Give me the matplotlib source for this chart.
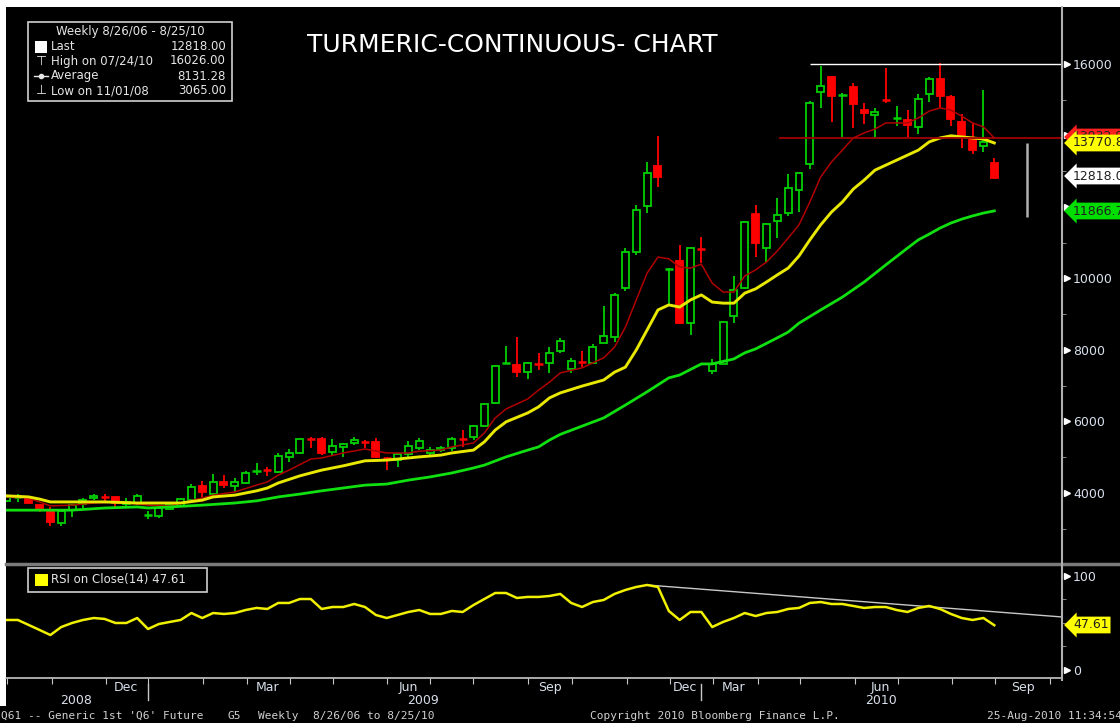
import matplotlib
matplotlib.use("Agg")
import matplotlib.pyplot as plt
from matplotlib.patches import Rectangle
from matplotlib.lines import Line2D
import matplotlib.transforms as mtransforms

# weekly OHLC, one bar per week (index 0 .. 91)
opens = [3790, 3880, 3860, 3660, 3500, 3160, 3520, 3690, 3860, 3900,
         3890, 3690, 3720, 3380, 3360, 3550, 3640, 3800, 4200, 3970,
         4310, 4200, 4280, 4590, 4650, 4590, 5010, 5120, 5520, 5510,
         5150, 5290, 5400, 5450, 5430, 4990, 4920, 5090, 5260, 5120,
         5200, 5260, 5520, 5570, 5870, 6520, 7620, 7580, 7380, 7620,
         7640, 7970, 7470, 7670, 7640, 8200, 8360, 9730, 10740, 12030,
         13150, 10260, 10490, 8750, 10830, 7410, 7610, 8950, 9730, 11800,
         10850, 11610, 11830, 12470, 13200, 15220, 15630, 15130, 15360, 14710,
         14570, 15000, 14480, 14430, 14240, 15160, 15570, 15070, 14380, 13870,
         13700, 13230]
highs = [3920, 3970, 3880, 3680, 3610, 3520, 3690, 3860, 3970, 3970,
         3900, 3860, 3970, 3500, 3600, 3720, 3860, 4250, 4340, 4530,
         4500, 4420, 4620, 4840, 4730, 5120, 5230, 5540, 5570, 5570,
         5510, 5400, 5570, 5480, 5540, 5010, 5120, 5450, 5540, 5290,
         5310, 5570, 5760, 5900, 6520, 7580, 8110, 8360, 7660, 7920,
         8080, 8340, 7780, 7970, 8170, 9230, 9590, 10850, 12060, 13260,
         13990, 10290, 10940, 10880, 11160, 7750, 8800, 10070, 11600, 12060,
         11540, 12250, 12920, 12980, 14960, 15940, 15650, 15180, 15470, 14910,
         14770, 15890, 14820, 14710, 15160, 15640, 16026, 15130, 14600, 14350,
         15270, 13370]
lows = [3760, 3750, 3700, 3470, 3065, 3080, 3330, 3580, 3800, 3780,
        3610, 3580, 3660, 3270, 3300, 3530, 3610, 3780, 3890, 3890,
        4140, 4030, 4260, 4500, 4480, 4570, 4870, 5100, 5260, 5060,
        5060, 5010, 5340, 5260, 4990, 4640, 4730, 5010, 5200, 5060,
        5150, 5170, 5290, 5480, 5850, 6490, 7610, 7240, 7190, 7440,
        7360, 7920, 7360, 7520, 7610, 8200, 8220, 9650, 10660, 11830,
        12560, 9260, 8730, 8420, 10430, 7330, 7600, 8750, 9700, 10600,
        10430, 11130, 11750, 11860, 13060, 14770, 14380, 13960, 14210, 14320,
        13960, 14910, 14270, 13960, 14040, 14940, 14770, 14270, 13650, 13480,
        13540, 12810]
closes = [3890, 3890, 3720, 3550, 3190, 3500, 3660, 3800, 3920, 3880,
          3720, 3750, 3920, 3400, 3580, 3690, 3830, 4170, 4030, 4310,
          4220, 4310, 4560, 4640, 4630, 5030, 5120, 5510, 5500, 5120,
          5310, 5370, 5480, 5400, 5010, 4970, 5090, 5310, 5450, 5200,
          5260, 5510, 5500, 5870, 6490, 7550, 7640, 7380, 7640, 7600,
          7920, 8250, 7690, 7650, 8080, 8390, 9540, 10740, 11910, 12950,
          12840, 10270, 8750, 10850, 10810, 7610, 8780, 9680, 11580, 10990,
          11520, 11780, 12530, 12950, 14910, 15380, 15100, 15160, 14880, 14630,
          14660, 14980, 14500, 14290, 15020, 15570, 15100, 14460, 13960, 13590,
          13810, 12818]

# moving average lines (bar index, value)
red_i = [0, 2, 3, 4, 6, 8, 10, 11, 13, 15, 16, 18, 19, 21, 23, 24, 25, 26, 28, 29,
         31, 33, 35, 37, 38, 40, 41, 43, 44, 45, 46, 48, 49, 50, 51, 53, 55, 56, 57, 58,
         59, 60, 61, 62, 63, 64, 65, 66, 67, 68, 69, 70, 71, 72, 73, 74, 75, 76, 77, 78,
         79, 80, 81, 82, 83, 84, 85, 86, 87, 88, 89, 90, 91]
red_v = [3890, 3860, 3750, 3640, 3660, 3720, 3750, 3720, 3660, 3640,
         3720, 3860, 3940, 4030, 4220, 4310, 4500, 4640, 4950, 4980,
         5120, 5230, 5120, 5120, 5170, 5200, 5290, 5400, 5680, 6100,
         6350, 6630, 6880, 7100, 7360, 7500, 7780, 8080, 8640, 9400,
         10150, 10600, 10550, 10320, 10290, 10400, 9870, 9620, 9620, 10070,
         10240, 10460, 10770, 11130, 11500, 12140, 12840, 13260, 13590, 13930,
         14070, 14180, 14350, 14350, 14350, 14490, 14680, 14770, 14710, 14540,
         14350, 14240, 13930]
yel_i = [0, 2, 3, 4, 6, 9, 12, 14, 16, 18, 19, 21, 23, 24, 25, 27, 29, 31, 33, 35,
         37, 38, 40, 41, 43, 44, 45, 46, 48, 49, 50, 51, 53, 55, 56, 57, 58, 59, 60, 61,
         62, 63, 64, 65, 66, 67, 68, 69, 70, 71, 72, 73, 74, 75, 76, 77, 78, 79, 80, 81,
         82, 83, 84, 85, 86, 87, 88, 89, 90, 91]
yel_v = [3920, 3890, 3830, 3750, 3750, 3750, 3720, 3720, 3720, 3800,
         3890, 3940, 4060, 4140, 4280, 4480, 4640, 4760, 4900, 4920,
         4980, 5010, 5060, 5120, 5200, 5430, 5760, 5990, 6240, 6410,
         6660, 6800, 6990, 7160, 7380, 7520, 8000, 8560, 9120, 9260,
         9200, 9400, 9540, 9340, 9310, 9310, 9590, 9710, 9900, 10100,
         10290, 10630, 11080, 11500, 11860, 12140, 12500, 12750, 13030, 13170,
         13310, 13450, 13590, 13820, 13930, 13990, 13960, 13930, 13900, 13790]
grn_i = [0, 6, 9, 12, 13, 15, 18, 21, 23, 25, 27, 29, 31, 33, 35, 37, 39, 41, 43, 44,
         46, 48, 49, 50, 51, 53, 55, 57, 59, 61, 62, 64, 65, 67, 68, 69, 71, 72, 73, 75,
         77, 79, 81, 83, 84, 85, 86, 87, 88, 89, 90, 91]
grn_v = [3520, 3520, 3580, 3610, 3580, 3610, 3660, 3720, 3780, 3890,
         3970, 4060, 4140, 4220, 4250, 4360, 4450, 4560, 4700, 4780,
         5010, 5200, 5290, 5480, 5640, 5870, 6100, 6460, 6830, 7220,
         7300, 7610, 7610, 7750, 7920, 8030, 8340, 8500, 8750, 9120,
         9480, 9900, 10380, 10850, 11080, 11240, 11410, 11550, 11660, 11750,
         11830, 11890]

rsi_vals = [53.2, 53.2, 47.9, 42.6, 37.2, 45.7, 50.0, 53.2, 55.3, 54.3,
            50.0, 50.0, 55.3, 43.6, 48.9, 51.1, 53.2, 60.6, 55.3, 60.6,
            59.6, 60.6, 63.8, 66.0, 64.9, 71.3, 71.3, 75.5, 75.5, 64.9,
            67.0, 67.0, 70.2, 67.0, 58.5, 55.3, 58.5, 61.7, 63.8, 59.6,
            59.6, 62.8, 61.7, 69.1, 75.5, 81.9, 81.9, 76.6, 77.7, 77.7,
            78.7, 80.9, 71.3, 67.0, 72.3, 74.5, 80.9, 85.1, 88.3, 90.4,
            88.3, 62.8, 53.2, 61.7, 61.7, 45.7, 51.1, 55.3, 60.6, 57.4,
            60.6, 61.7, 64.9, 66.0, 71.3, 72.3, 70.2, 70.2, 68.1, 66.0,
            67.0, 67.0, 63.8, 61.7, 66.0, 68.1, 64.9, 59.6, 55.3, 53.2,
            55.3, 47.61]

month_bounds = [0, 4.15, 9.12, 13.0, 18.06, 22.1, 26.08, 30.05, 35.02, 38.99, 42.95,
                48.02, 52.07, 57.14, 61.1, 65.07, 69.22, 73.09, 78.16, 82.12, 87.1,
                91.06, 96.13]
month_labels = ["Dec", "Mar", "Jun", "Sep", "Dec", "Mar", "Jun", "Sep"]
month_pos = [11, 24, 37, 50, 62.5, 67, 80.5, 93.6]
year_labels = ["2008", "2009", "2010"]
year_pos = [6.4, 38.3, 80.6]
year_breaks = [13, 64]

W, H = 1120, 723
GREEN = "#00D000"
RED = "#FF0000"
LBL = "#D8E0EC"
XMIN, XMAX = -0.09, 97.24


def fx(px):
    return px / W


def fy(py):
    return 1 - py / H


fig = plt.figure(figsize=(W / 100, H / 100), dpi=100, facecolor="white")
fig.add_artist(Rectangle((fx(6), 0), 1 - fx(6), fy(7), transform=fig.transFigure,
                         facecolor="black", edgecolor="none", zorder=-10))
fig.add_artist(Rectangle((0, 0), fx(6), fy(706), transform=fig.transFigure,
                         facecolor="black", edgecolor="none", zorder=-10))

ax = fig.add_axes([fx(6), fy(561), fx(1062) - fx(6), fy(7) - fy(561)])
rsi = fig.add_axes([fx(6), fy(678), fx(1062) - fx(6), fy(566) - fy(678)])
for a in (ax, rsi):
    a.set_facecolor("black")
    for s in a.spines.values():
        s.set_visible(False)
    a.set_xlim(XMIN, XMAX)

# candles
for i in range(len(opens)):
    o, h, l, c = opens[i], highs[i], lows[i], closes[i]
    up = c >= o
    col = GREEN if up else RED
    ax.vlines(i, l, h, color=col, lw=1.3, zorder=2)
    if abs(c - o) < 60:
        ax.hlines((o + c) / 2, i - 0.38, i + 0.38, color=col, lw=1.8, zorder=3)
    else:
        ax.add_patch(Rectangle((i - 0.32, min(o, c)), 0.64, abs(c - o),
                               facecolor="black" if up else RED, edgecolor=col,
                               lw=1.3, zorder=3))

ax.plot(red_i, red_v, color="#B00000", lw=1.1, zorder=4)
ax.plot(grn_i, grn_v, color="#10E010", lw=2.0, zorder=4)
ax.plot(yel_i, yel_v, color="#E8E800", lw=2.1, zorder=4)

ax.hlines(13932.9, 71.2, XMAX, color="#A00000", lw=1.3, zorder=5)
ax.hlines(15990, 74.0, XMAX, color="white", lw=1.0, zorder=5)
ax.vlines(94, 11720, 13790, color="#B0B0B0", lw=1.8, zorder=5)

ax.set_ylim(2098, 17593)
ax.yaxis.tick_right()
ax.set_yticks(range(4000, 16001, 2000))
ax.set_yticklabels([str(v) for v in range(4000, 16001, 2000)])
ax.set_yticks(range(3000, 16000, 2000), minor=True)
ax.tick_params(axis="y", which="major", length=0, pad=8, labelsize=9, labelcolor=LBL)
ax.tick_params(axis="y", which="minor", length=3, color="#A0A0A0", direction="out")
ax.tick_params(axis="x", bottom=False, labelbottom=False)
tr = mtransforms.blended_transform_factory(ax.transAxes, ax.transData)
ax.plot([1.005] * 7, list(range(4000, 16001, 2000)), ls="none", marker=">", ms=5,
        color="white", transform=tr, clip_on=False)

# RSI panel
rsi.plot(range(len(rsi_vals)), rsi_vals, color="#F0F000", lw=1.8, zorder=3)
rsi.plot([59, XMAX], [90.4, 56.4], color="#C8C8C8", lw=1.0, zorder=2)
rsi.set_ylim(-8.5, 110.6)
rsi.yaxis.tick_right()
rsi.set_yticks([0, 100])
rsi.set_yticklabels(["0", "100"])
rsi.set_yticks([25, 50, 75], minor=True)
rsi.tick_params(axis="y", which="major", length=0, pad=8, labelsize=9, labelcolor=LBL)
rsi.tick_params(axis="y", which="minor", length=3, color="#A0A0A0", direction="out")
tr2 = mtransforms.blended_transform_factory(rsi.transAxes, rsi.transData)
rsi.plot([1.005] * 2, [0, 100], ls="none", marker=">", ms=5, color="white",
         transform=tr2, clip_on=False)

rsi.spines["bottom"].set_visible(True)
rsi.spines["bottom"].set_color("#C8C8C8")
rsi.spines["bottom"].set_linewidth(1.2)
rsi.set_xticks(month_bounds)
rsi.tick_params(axis="x", length=4, color="#C8C8C8", direction="out", labelbottom=False)
xt = rsi.get_xaxis_transform()
for lab, p in zip(month_labels, month_pos):
    rsi.text(p, -0.085, lab, transform=xt, ha="center", va="center", fontsize=9,
             color=LBL, clip_on=False)
for lab, p in zip(year_labels, year_pos):
    rsi.text(p, -0.2, lab, transform=xt, ha="center", va="center", fontsize=9,
             color=LBL, clip_on=False)
for p in year_breaks:
    rsi.plot([p, p], [-0.05, -0.2], transform=xt, color="#C8C8C8", lw=1.0, clip_on=False)

# separators and right spine
fig.add_artist(Line2D([fx(6), 1], [fy(563.5)] * 2, color="#7A7A7A", lw=2.5))
fig.add_artist(Line2D([fx(1062)] * 2, [fy(7), fy(680)], color="#B0B0B0", lw=1.5))


def tag(py, txt, fc):
    fig.text(fx(1073), fy(py), txt, fontsize=9, color="#202020", va="center", ha="left",
             zorder=10, bbox=dict(boxstyle="larrow,pad=0.15", fc=fc, ec="none"))


tag(137, "13932.9", "#FF2020")
tag(143, "13770.84", "#FFFF00")
tag(176, "12818.00", "white")
tag(211, "11866.7", "#00DD00")
tag(625, "47.61", "#FFFF00")

# title
fig.text(fx(512), fy(45), "TURMERIC-CONTINUOUS- CHART", color="white", fontsize=18,
         ha="center", va="center")

# legend box
fig.add_artist(Rectangle((fx(28), fy(101)), fx(232) - fx(28), fy(22) - fy(101),
                         transform=fig.transFigure, fc="black", ec="#D0D0D0", lw=1.2, zorder=5))
LEG = "#E6E6E6"
fig.text(fx(130), fy(32), "Weekly 8/26/06 - 8/25/10", color=LEG, fontsize=8.5,
         ha="center", va="center", zorder=6)
rows = [("Last", "12818.00", 47), ("High on 07/24/10", "16026.00", 61),
        ("Average", "8131.28", 76), ("Low on 11/01/08", "3065.00", 91)]
for name, val, py in rows:
    fig.text(fx(51), fy(py), name, color=LEG, fontsize=8.5, ha="left", va="center", zorder=6)
    fig.text(fx(226), fy(py), val, color=LEG, fontsize=8.5, ha="right", va="center", zorder=6)
fig.add_artist(Rectangle((fx(35), fy(53)), fx(12), fy(41) - fy(53), transform=fig.transFigure,
                         fc="white", ec="none", zorder=6))
fig.text(fx(41), fy(61), "\u22a4", color=LEG, fontsize=9, ha="center", va="center", zorder=6)
fig.add_artist(Line2D([fx(34), fx(48)], [fy(76)] * 2, color=LEG, lw=1.0, zorder=6))
fig.add_artist(Line2D([fx(41)], [fy(76)], color=LEG, marker="o", ms=3, zorder=6))
fig.text(fx(41), fy(91), "\u22a5", color=LEG, fontsize=9, ha="center", va="center", zorder=6)

# RSI legend
fig.add_artist(Rectangle((fx(28), fy(592)), fx(207) - fx(28), fy(568) - fy(592),
                         transform=fig.transFigure, fc="black", ec="#D0D0D0", lw=1.2, zorder=5))
fig.add_artist(Rectangle((fx(35), fy(586)), fx(13), fy(574) - fy(586), transform=fig.transFigure,
                         fc="#FFFF00", ec="none", zorder=6))
fig.text(fx(51), fy(580), "RSI on Close(14) 47.61", color=LEG, fontsize=8.5,
         ha="left", va="center", zorder=6)

# footer
FT = "#D0D0D0"
for px, s in [(1, "Q61 -- Generic 1st 'Q6' Future"), (228, "G5"), (258, "Weekly"),
              (313, "8/26/06 to 8/25/10"), (590, "Copyright 2010 Bloomberg Finance L.P."),
              (987, "25-Aug-2010 11:34:54")]:
    fig.text(fx(px), fy(716), s, color=FT, fontsize=8, family="DejaVu Sans Mono",
             ha="left", va="center")

fig.savefig("out.png", dpi=100, facecolor=fig.get_facecolor())
